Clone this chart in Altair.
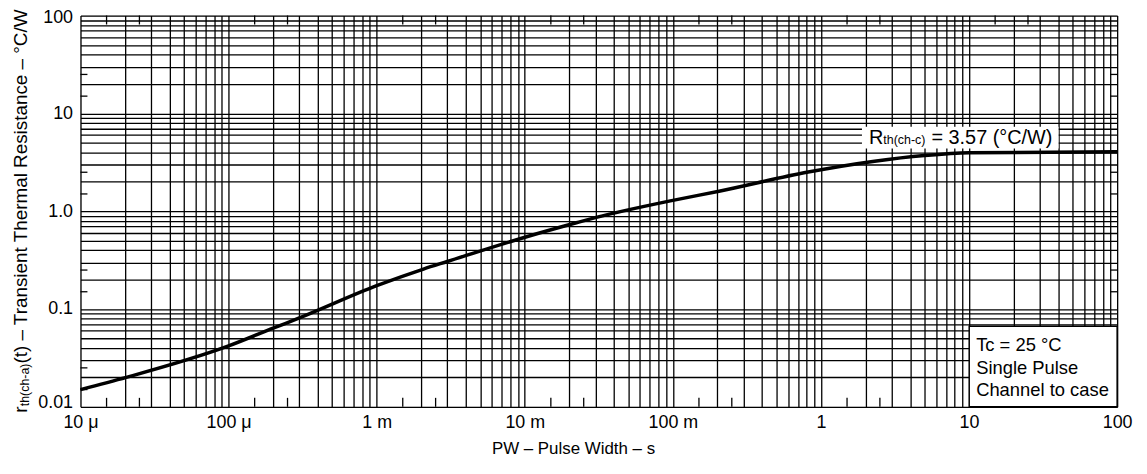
import altair as alt
import pandas as pd

# Curve (pulse width in s, r_th in °C/W)
pw = [1e-5, 2.04e-5, 1.0e-4, 2.04e-4, 2.95e-4, 1.0e-3, 2.07e-3, 3.0e-3, 1.03e-2,
      2.23e-2, 3.04e-2, 0.1, 0.205, 0.82, 2.3, 5.0, 10.0, 100.0]
rth = [0.0150, 0.0200, 0.0419, 0.0644, 0.0800, 0.173, 0.256, 0.306, 0.548,
       0.761, 0.863, 1.29, 1.60, 2.51, 3.24, 3.70, 3.95, 4.05]

x_decades = [1e-5, 1e-4, 1e-3, 1e-2, 1e-1, 1.0, 10.0, 100.0]
x_labels = ["10 μ", "100 μ", "1 m", "10 m", "100 m", "1", "10", "100"]
y_decades = [0.01, 0.1, 1.0, 10.0, 100.0]
y_labels = ["0.01", "0.1", "1.0", "10", "100"]
grid_mult = [2, 3, 4, 5, 6, 7, 8, 9]
tick_mult = [1.5, 2.5]

rth_note = ["R", "th(ch-c)", "= 3.57 (°C/W)"]
box_note = "Tc = 25 °C\nSingle Pulse\nChannel to case"
y_title = ["r", "th(ch-a)", "(t) – Transient Thermal Resistance – °C/W"]
x_title = "PW – Pulse Width – s"

W, H = 1044, 394
FONT = "Liberation Sans"

x_grid = x_decades + [d * m for d in x_decades[:-1] for m in grid_mult]
y_grid = y_decades + [d * m for d in y_decades[:-1] for m in grid_mult]
x_ticks = [d * m for d in x_decades[:-1] for m in tick_mult]
y_ticks = [d * m for d in y_decades[:-1] for m in tick_mult]


def label_expr(vals, labs):
    parts = [f"datum.value == {v!r} ? '{l}'" for v, l in zip(vals, labs)]
    return " : ".join(parts) + " : ''"


xs = alt.Scale(type="log", domain=[x_decades[0], x_decades[-1]], nice=False)
ys = alt.Scale(type="log", domain=[y_decades[0], y_decades[-1]], nice=False)

x_axis = alt.Axis(
    values=x_grid, grid=True, gridColor="black", gridWidth=1.3, gridOpacity=1,
    ticks=False, tickSize=0, domain=False, labelExpr=label_expr(x_decades, x_labels),
    labelOverlap=False, labelBound=False, labelFlush=False, labelFontSize=18,
    labelColor="black", labelPadding=7, labelFont=FONT,
    title=x_title, titleFontSize=17, titleFontWeight="normal", titleColor="black",
    titleFont=FONT, titleX=496, titleY=47, titleBaseline="alphabetic")
y_axis = alt.Axis(
    values=y_grid, grid=True, gridColor="black", gridWidth=1.3, gridOpacity=1,
    ticks=False, tickSize=0, domain=False, labelExpr=label_expr(y_decades, y_labels),
    labelOverlap=False, labelBound=False, labelFlush=False, labelFontSize=18,
    labelColor="black", labelPadding=8, labelFont=FONT, title=None,
    labelOffset={"condition": [{"test": "datum.value == 100", "value": 2},
                               {"test": "datum.value == 0.01", "value": -4}],
                 "value": 0})

curve_df = pd.DataFrame({"pw": pw, "rth": rth})

curve = alt.Chart(curve_df).mark_line(
    color="black", strokeWidth=3.5, interpolate="monotone"
).encode(
    x=alt.X("pw:Q", scale=xs, axis=x_axis),
    y=alt.Y("rth:Q", scale=ys, axis=y_axis),
)

xt_df = pd.DataFrame({"pw": x_ticks})
yt_df = pd.DataFrame({"rth": y_ticks})

bottom_ticks = alt.Chart(xt_df).mark_rule(color="black", strokeWidth=1.3).encode(
    x=alt.X("pw:Q", scale=xs, axis=x_axis), y=alt.value(H), y2=alt.value(H - 9))
top_ticks = alt.Chart(xt_df).mark_rule(color="black", strokeWidth=1.3).encode(
    x=alt.X("pw:Q", scale=xs, axis=x_axis), y=alt.value(0), y2=alt.value(9))
left_ticks = alt.Chart(yt_df).mark_rule(color="black", strokeWidth=1.3).encode(
    y=alt.Y("rth:Q", scale=ys, axis=y_axis), x=alt.value(0), x2=alt.value(7))
right_ticks = alt.Chart(yt_df).mark_rule(color="black", strokeWidth=1.3).encode(
    y=alt.Y("rth:Q", scale=ys, axis=y_axis), x=alt.value(W), x2=alt.value(W - 7))

one = pd.DataFrame({"a": [0]})

rth_bg = alt.Chart(one).mark_rect(fill="white").encode(
    x=alt.value(787), x2=alt.value(985), y=alt.value(112), y2=alt.value(134))

rth_t1 = alt.Chart(pd.DataFrame({"t": [rth_note[0]]})).mark_text(
    align="left", baseline="alphabetic", fontSize=20, font=FONT, color="black"
).encode(text="t:N", x=alt.value(794), y=alt.value(129))
rth_t2 = alt.Chart(pd.DataFrame({"t": [rth_note[1]]})).mark_text(
    align="left", baseline="alphabetic", fontSize=12.5, font=FONT, color="black"
).encode(text="t:N", x=alt.value(808.5), y=alt.value(129))
rth_t3 = alt.Chart(pd.DataFrame({"t": [rth_note[2]]})).mark_text(
    align="left", baseline="alphabetic", fontSize=20, font=FONT, color="black"
).encode(text="t:N", x=alt.value(857), y=alt.value(129))

box = alt.Chart(one).mark_rect(fill="white", stroke="black", strokeWidth=1.5).encode(
    x=alt.value(895), x2=alt.value(W), y=alt.value(313), y2=alt.value(H))
box_text = alt.Chart(pd.DataFrame({"t": [box_note]})).mark_text(
    align="left", baseline="alphabetic", fontSize=18.5, font=FONT, color="black",
    lineBreak="\n", lineHeight=22.5
).encode(text="t:N", x=alt.value(902), y=alt.value(338))

yt1 = alt.Chart(pd.DataFrame({"t": [y_title[0]]})).mark_text(
    align="left", baseline="alphabetic", fontSize=19, font=FONT, color="black", angle=270
).encode(text="t:N", x=alt.value(-54), y=alt.value(400))
yt2 = alt.Chart(pd.DataFrame({"t": [y_title[1]]})).mark_text(
    align="left", baseline="alphabetic", fontSize=12.5, font=FONT, color="black", angle=270
).encode(text="t:N", x=alt.value(-52), y=alt.value(393.5))
yt3 = alt.Chart(pd.DataFrame({"t": [y_title[2]]})).mark_text(
    align="left", baseline="alphabetic", fontSize=19, font=FONT, color="black", angle=270
).encode(text="t:N", x=alt.value(-54), y=alt.value(350.5))

chart = alt.layer(
    curve, bottom_ticks, top_ticks, left_ticks, right_ticks,
    rth_bg, rth_t1, rth_t2, rth_t3, box, box_text, yt1, yt2, yt3
).properties(
    width=W, height=H,
    autosize=alt.AutoSizeParams(type="none"),
    padding={"left": 73, "top": 6, "right": 22, "bottom": 54},
).configure_view(
    stroke="black", strokeWidth=1.6
).configure(font=FONT, background="white")

chart.save("out.html", embed_options={"renderer": "svg", "actions": False})
